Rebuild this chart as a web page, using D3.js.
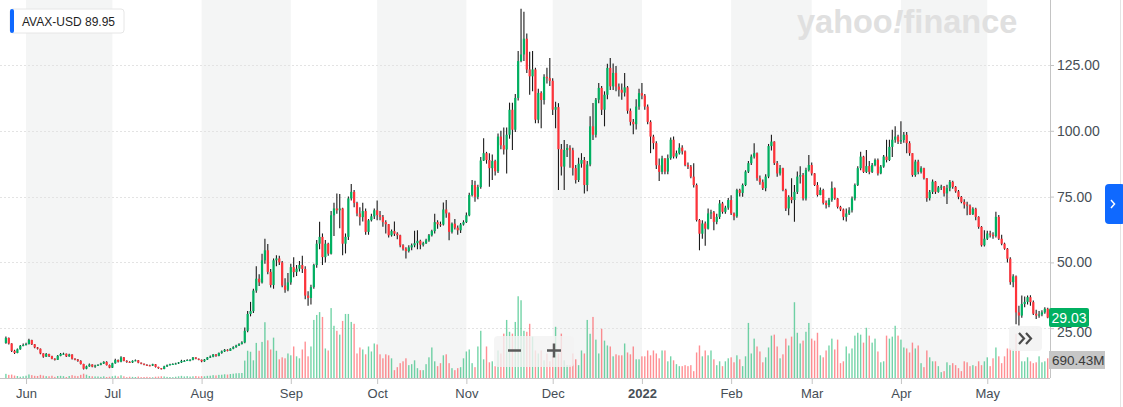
<!DOCTYPE html>
<html><head><meta charset="utf-8">
<script src="https://cdn.jsdelivr.net/npm/d3@7"></script>
<style>
html,body{margin:0;padding:0;background:#fff;}
svg{display:block;font-family:"Liberation Sans",Arial,Helvetica,sans-serif;}
</style></head><body>
<svg id="chart" width="1123" height="407"></svg>
<script>
// ---- data (AVAX-USD daily candles) ----
const ticker = "AVAX-USD";
const hoverPrice = "89.95";
const lastPriceLabel = "29.03";
const lastVolumeLabel = "690.43M";
const startDate = "2021-05-25";   // first daily candle
const firstOpen = 19.4;           // open of the first candle (crypto: open = previous close)
const closes = [
21.3,19.2,16.4,15.6,17.0,18.3,18.6,19.0,20.5,18.9,17.7,17.2,15.4,14.2,15.2,14.4,13.4,13.0,14.5,15.2,15.3,14.3,15.0,13.4,13.1,12.6,11.4,9.6,10.5,11.2,10.4,10.8,
11.1,11.6,12.2,11.0,10.0,11.7,12.9,12.3,13.9,12.6,12.2,12.0,12.6,12.8,11.9,11.5,11.1,10.9,10.8,11.3,10.3,9.8,9.5,10.5,11.0,11.3,11.4,11.6,12.0,12.6,12.6,12.9,
13.0,13.9,13.4,13.0,12.4,13.1,13.9,14.2,15.0,14.5,15.6,16.2,16.8,16.4,17.2,17.8,18.4,19.0,19.6,24.0,30.4,31.5,39.3,43.8,42.4,50.8,54.6,46.4,41.4,50.8,51.5,50.0,41.2,
39.6,42.4,48.2,46.3,47.6,49.0,47.5,37.4,36.5,40.6,49.0,57.1,59.7,52.0,57.1,53.3,67.9,70.5,69.8,70.5,57.1,59.7,74.3,76.8,72.6,68.6,67.2,69.5,61.6,66.0,67.5,69.8,68.0,
67.3,65.3,64.5,60.3,61.9,60.9,60.3,56.5,55.2,54.3,55.7,56.5,57.3,58.2,56.7,57.3,58.4,60.3,61.9,65.3,64.5,64.4,70.1,68.6,61.6,64.7,63.2,62.2,64.4,65.3,67.9,75.6,79.4,
74.9,78.6,88.7,91.5,88.9,85.8,88.5,84.6,97.8,94.5,92.9,98.5,108.0,100.4,112.5,126.5,129.0,135.0,123.3,120.7,123.3,104.2,114.4,111.7,120.5,120.0,119.0,108.0,109.0,93.0,86.4,92.7,93.5,
92.6,85.8,81.3,87.5,88.9,79.4,87.2,101.7,98.5,111.8,116.3,108.0,113.7,123.9,116.9,122.0,116.8,115.6,114.5,116.5,107.6,103.4,102.5,109.2,114.3,113.4,109.2,103.4,97.8,95.3,86.9,84.4,89.5,
84.5,89.6,96.6,90.2,91.5,93.6,92.2,87.0,86.4,82.6,79.4,66.1,60.9,64.8,62.8,68.6,69.0,65.4,67.3,72.4,69.2,70.8,73.7,68.6,67.5,77.5,76.4,79.4,84.5,87.7,90.2,91.5,82.0,
80.5,78.2,82.6,94.2,95.9,87.7,83.8,85.8,77.5,70.5,74.9,73.7,76.8,82.6,83.2,74.3,85.1,87.0,83.8,79.4,75.6,77.5,72.6,71.8,73.7,78.2,74.3,71.1,70.1,67.3,68.6,69.8,74.3,
79.4,85.8,90.2,84.4,86.6,84.4,87.0,88.9,83.8,86.4,90.2,88.9,93.9,96.6,97.8,95.9,96.5,98.5,95.3,91.5,83.2,88.3,84.4,85.8,82.0,74.4,76.8,80.7,76.8,78.5,78.8,76.2,78.2,
80.6,78.7,77.0,74.9,73.0,72.0,71.5,68.3,70.4,67.3,63.5,56.5,59.0,61.0,60.5,60.0,67.3,59.0,57.1,55.2,51.4,42.5,44.7,31.0,29.8,34.2,35.0,36.8,34.9,30.5,29.8,30.2,31.0,32.4,29.03
];
const highs = [
21.8,21.5,19.3,16.8,17.3,18.6,19.2,19.5,21.0,20.6,19.0,17.9,17.3,15.5,15.6,15.3,14.5,13.6,14.8,15.6,15.7,15.4,15.3,15.1,13.6,13.3,12.8,11.5,10.8,11.6,11.3,11.1,
11.3,11.9,12.4,12.4,11.2,11.9,13.4,13.1,14.3,14.1,12.8,12.4,12.8,13.1,12.9,12.0,11.6,11.3,11.1,11.5,11.4,10.4,9.9,10.7,11.2,11.5,11.7,11.9,12.2,13.0,12.9,13.2,
13.2,14.1,14.0,13.5,13.1,13.3,14.1,14.6,15.2,15.2,15.8,16.5,17.1,17.0,17.4,18.1,18.7,19.3,20.0,25.3,31.5,35.0,40.0,48.5,45.5,53.3,59.0,57.0,47.5,51.5,52.7,52.5,50.5,
44.0,46.0,49.5,52.0,49.0,50.5,52.5,48.5,39.0,41.5,49.5,58.5,65.4,61.0,58.5,57.5,69.5,72.7,76.2,76.0,70.8,61.0,75.0,79.8,77.5,73.0,71.0,72.7,70.5,66.5,68.5,70.5,73.5,
69.5,68.0,66.0,64.6,62.5,65.5,61.5,60.5,56.9,55.8,56.5,57.2,62.0,62.2,58.6,57.8,59.0,60.8,62.4,68.5,66.0,65.5,72.8,73.7,69.0,65.2,66.5,64.0,65.0,66.0,69.0,76.5,81.3,
81.0,79.5,90.0,97.2,92.0,91.5,91.0,89.0,99.0,100.0,101.3,101.3,110.7,110.7,114.0,130.3,146.4,145.2,137.0,130.0,130.3,124.0,116.0,115.0,121.5,124.0,127.7,120.0,111.0,110.5,95.0,96.5,95.0,
94.5,93.6,87.0,89.8,91.5,90.0,88.5,105.5,110.6,112.5,118.2,117.0,115.0,125.5,127.7,125.6,124.6,118.0,118.0,122.0,117.0,108.5,104.5,112.0,116.0,118.2,114.0,110.0,104.0,98.5,96.0,89.5,90.5,
89.6,91.0,97.5,97.8,92.5,95.3,94.5,92.5,88.0,87.0,87.7,80.0,66.5,66.0,65.5,70.5,70.0,69.5,68.5,73.7,73.0,71.5,74.5,75.5,69.0,78.0,78.0,80.0,85.0,88.5,91.0,95.3,91.8,
83.0,81.5,83.5,95.0,98.5,96.0,88.5,87.0,86.0,78.0,75.5,82.0,79.4,84.5,86.5,84.0,86.0,90.8,88.0,84.0,80.5,78.5,78.0,73.5,74.5,80.7,78.5,74.5,71.5,70.5,70.5,71.0,75.0,
80.0,86.5,92.0,90.5,92.7,88.5,87.8,89.5,89.5,87.0,90.8,96.6,96.6,100.4,101.7,98.5,103.6,99.5,99.5,96.0,91.5,89.0,89.0,86.5,86.0,82.0,77.5,81.5,80.9,79.0,79.5,79.0,79.5,
81.3,81.0,79.0,77.5,75.2,74.0,73.0,72.0,71.0,70.8,67.5,63.8,62.2,62.0,62.0,61.5,69.2,68.0,60.5,57.5,55.5,52.0,45.5,45.0,33.5,37.4,37.0,37.4,37.5,35.5,32.0,31.5,31.8,33.0,32.8
];
const lows = [
19.1,18.8,16.0,15.2,15.5,16.8,18.1,18.4,18.8,18.6,17.4,16.9,15.1,13.8,14.1,14.1,13.2,12.7,12.9,14.3,14.9,14.1,14.2,13.1,12.8,12.3,11.2,9.3,9.4,10.4,10.2,10.0,
10.6,10.9,11.4,10.8,9.8,9.9,11.5,12.0,12.1,12.4,11.9,11.8,11.8,12.4,11.7,11.3,10.9,10.6,10.5,10.6,10.1,9.6,9.3,9.4,10.3,10.8,11.1,11.2,11.4,11.8,12.3,12.5,
12.4,12.8,13.2,12.8,12.1,12.2,12.9,13.7,14.0,14.2,14.3,15.3,16.0,16.2,16.3,17.0,17.6,18.2,18.8,19.3,23.5,29.5,30.8,38.5,41.0,42.0,49.5,45.5,40.5,40.0,48.5,49.0,40.6,
38.5,39.0,41.5,44.4,44.8,46.5,46.0,36.0,33.5,34.0,40.0,48.0,55.0,49.0,50.0,52.5,53.0,60.0,68.5,63.0,52.7,53.4,58.5,73.5,71.0,67.5,64.0,65.5,60.5,60.5,65.5,66.5,66.0,
66.0,63.5,61.0,59.5,59.8,60.0,58.8,55.8,54.5,51.5,53.8,54.6,55.8,55.0,55.0,56.0,57.0,57.8,59.8,61.0,62.8,63.5,64.0,67.0,58.4,61.0,62.5,60.5,61.2,64.0,65.0,67.5,75.0,
73.0,74.0,78.0,88.5,87.5,78.7,81.3,83.0,84.0,93.0,91.0,83.8,97.0,92.7,99.5,111.5,126.0,126.5,122.0,113.7,115.0,102.9,102.9,101.0,110.0,118.0,117.0,106.0,101.0,77.5,83.0,77.5,90.0,
86.0,83.0,80.0,80.5,86.0,76.2,77.0,86.5,96.5,97.5,110.5,106.0,101.7,112.0,115.5,115.5,115.0,113.0,111.8,113.0,106.5,102.0,98.7,100.5,108.0,112.0,108.0,102.5,91.5,93.0,85.5,80.9,83.5,
83.5,83.5,89.0,89.5,89.5,91.0,91.0,86.5,85.5,82.0,78.5,65.5,54.6,59.0,56.3,62.5,66.5,62.2,64.5,66.5,68.5,68.5,70.0,68.0,66.0,67.0,75.0,74.9,79.0,84.0,87.0,89.5,81.0,
79.5,77.5,77.0,82.0,92.5,87.0,82.5,83.0,77.0,69.5,67.9,72.5,65.4,76.0,80.0,73.5,73.5,84.5,83.0,79.0,75.0,75.5,72.0,70.5,71.0,73.0,73.8,70.5,69.5,66.0,65.5,68.0,69.0,
73.5,79.0,85.0,84.0,84.0,83.5,84.0,86.5,83.0,83.5,86.0,88.0,88.5,90.0,95.5,95.0,95.0,95.5,91.5,90.5,82.5,82.5,83.5,83.8,81.5,73.0,73.5,76.0,76.0,76.5,77.5,75.0,72.2,
77.0,78.0,76.5,74.0,72.5,70.5,67.9,68.0,68.0,66.0,62.8,56.0,56.0,58.5,59.5,59.0,59.5,58.5,56.5,54.8,50.0,41.5,40.6,26.5,26.0,29.0,33.0,34.0,33.5,30.0,28.5,29.0,29.5,30.5,28.8
];
// volume, millions of USD
const volumes = [
145,110,120,85,70,45,60,80,125,100,75,70,110,85,65,60,80,40,70,75,65,35,70,100,75,65,110,150,115,70,60,55,
55,40,60,35,45,60,80,55,95,60,30,45,40,35,50,30,35,40,30,25,45,50,60,55,40,35,30,45,60,75,55,65,
50,60,70,55,65,60,75,80,100,90,110,115,130,120,140,150,165,170,175,610,955,920,620,1230,955,1265,1955,1320,1000,1415,955,655,725,
690,860,795,1105,760,690,1000,1275,760,1105,2035,2210,2310,2140,1035,965,2450,1830,1655,1520,2000,2245,2245,1965,1900,860,1070,1000,830,1105,930,1210,1175,
830,690,830,795,690,275,380,520,585,690,450,485,620,345,275,275,485,725,1070,585,415,520,795,830,520,345,275,345,380,690,930,1000,520,
380,1105,1655,655,1105,550,585,415,965,860,1555,2035,1620,1555,1965,2865,2725,1655,1620,1900,1450,965,860,965,620,860,585,760,1795,860,1555,620,450,
450,860,655,450,965,860,2035,1550,2140,1345,860,1725,1310,1140,1105,760,830,795,795,1210,895,830,1105,655,655,760,760,965,795,965,860,690,965,
965,585,760,620,485,415,415,450,415,450,240,895,1140,760,965,795,965,655,450,585,415,585,690,725,550,795,655,415,760,1930,860,1380,1105,
930,550,725,1070,1485,1520,1105,690,830,1380,1140,1450,2655,1585,1210,1310,1620,1930,1380,1310,1585,795,725,965,1140,1380,1000,1345,520,585,1105,860,1035,
1485,1585,1520,1240,1760,1485,1240,1380,930,550,585,1485,1380,1450,1830,1485,1345,1070,1035,895,1240,1035,1140,520,380,965,725,585,585,415,205,240,550,
450,520,450,345,240,585,550,415,450,415,585,450,585,725,415,690,1070,760,520,760,1035,1035,1000,1550,965,585,585,725,585,520,550,760,550,585,690.43
];
const priceTicks = [25, 50, 75, 100, 125];
const monthTickDates = ["2021-06-01","2021-07-01","2021-08-01","2021-09-01","2021-10-01","2021-11-01","2021-12-01","2022-01-01","2022-02-01","2022-03-01","2022-04-01","2022-05-01"];
const monthTickLabels = ["Jun","Jul","Aug","Sep","Oct","Nov","Dec","2022","Feb","Mar","Apr","May"];
const shadedMonthDates = ["2021-06-01","2021-08-01","2021-10-01","2021-12-01","2022-02-01","2022-04-01"];

// ---- drawing ----
const svg = d3.select("#chart");
const plotRight = 1050, axisY = 378;
const UP = "#00b061", DOWN = "#ff333a";
const parse = d3.utcParse("%Y-%m-%d");
const t0 = parse(startDate);
const dates = closes.map((_, i) => d3.utcDay.offset(t0, i));
const opens = closes.map((c, i) => i === 0 ? firstOpen : closes[i - 1]);

const x = d3.scaleUtc().domain([dates[0], dates[dates.length - 1]]).range([5.9, 1047.7]);
const y = d3.scaleLinear().domain([25, 125]).range([328.2, 65]);
const yv = d3.scaleLinear().domain([0, 690.43]).range([axisY, 358.3]);

// shaded month bands
svg.append("g").selectAll("rect").data(shadedMonthDates.map(parse)).join("rect")
  .attr("x", d => x(d)).attr("y", 0)
  .attr("width", d => x(d3.utcMonth.offset(d, 1)) - x(d))
  .attr("height", axisY).attr("fill", "#f4f5f5");

// horizontal grid
svg.append("g").selectAll("line").data(priceTicks).join("line")
  .attr("x1", 0).attr("x2", plotRight).attr("y1", d => Math.round(y(d)) + 0.5).attr("y2", d => Math.round(y(d)) + 0.5)
  .attr("stroke", "#e3e3e3").attr("stroke-dasharray", "2,2");

// volume bars
const idx = d3.range(closes.length);
svg.append("g").selectAll("rect").data(idx).join("rect")
  .attr("x", i => x(dates[i]) - 0.7).attr("width", 1.4)
  .attr("y", i => yv(volumes[i])).attr("height", i => axisY - yv(volumes[i]))
  .attr("fill", i => closes[i] >= opens[i] ? UP : DOWN).attr("fill-opacity", 0.55);

// candles
const cg = svg.append("g");
cg.selectAll("line").data(idx).join("line")
  .attr("x1", i => x(dates[i])).attr("x2", i => x(dates[i]))
  .attr("y1", i => y(Math.max(highs[i], opens[i], closes[i])))
  .attr("y2", i => y(Math.min(lows[i], opens[i], closes[i])))
  .attr("stroke", "#1b1b1b").attr("stroke-width", 1.1);
cg.selectAll("rect").data(idx).join("rect")
  .attr("x", i => x(dates[i]) - 1.1).attr("width", 2.2)
  .attr("y", i => y(Math.max(opens[i], closes[i])))
  .attr("height", i => Math.max(1, Math.abs(y(opens[i]) - y(closes[i]))))
  .attr("fill", i => closes[i] >= opens[i] ? UP : DOWN);

// right price axis
svg.append("line").attr("x1", plotRight + 0.5).attr("x2", plotRight + 0.5).attr("y1", 0).attr("y2", axisY)
  .attr("stroke", "#c4c4c4");
const ya = svg.append("g").attr("transform", `translate(${plotRight},0)`)
  .call(d3.axisRight(y).tickValues(priceTicks).tickFormat(d3.format(".2f")).tickSize(4).tickPadding(3));
ya.select(".domain").remove();
ya.selectAll("line").attr("stroke", "#c4c4c4");
ya.selectAll("text").attr("font-size", 14).attr("fill", "#464e56")
  .attr("font-family", "Liberation Sans, Arial, sans-serif")
  .attr("dy", d => d === 25 ? "0.62em" : "0.32em");

// bottom time axis
svg.append("line").attr("x1", 0).attr("x2", plotRight).attr("y1", axisY + 0.5).attr("y2", axisY + 0.5)
  .attr("stroke", "#c4c4c4");
const xa = svg.append("g").attr("transform", `translate(0,${axisY})`)
  .call(d3.axisBottom(x).tickValues(monthTickDates.map(parse))
    .tickFormat((d, i) => monthTickLabels[i]).tickSize(6).tickPadding(5));
xa.select(".domain").remove();
xa.selectAll("line").attr("stroke", "#c4c4c4");
xa.selectAll("text").attr("font-size", 13).attr("fill", "#464e56")
  .attr("font-family", "Liberation Sans, Arial, sans-serif")
  .attr("font-weight", (d, i) => monthTickLabels[i] === "2022" ? "bold" : "normal");

// right border + side button
svg.append("line").attr("x1", 1120.5).attr("x2", 1120.5).attr("y1", 0).attr("y2", 407).attr("stroke", "#e4e4e4");
svg.append("rect").attr("x", 1105).attr("y", 184).attr("width", 20).attr("height", 40).attr("rx", 4).attr("fill", "#0f69ff");
svg.append("path").attr("d", "M1111,200 L1114.5,204 L1111,208").attr("fill", "none").attr("stroke", "#fff").attr("stroke-width", 1.5);

// watermark
const wm = svg.append("text").attr("x", 797).attr("y", 33).attr("font-size", 32.5).attr("font-weight", "bold")
  .attr("fill", "#e0e0e0").attr("font-family", "Liberation Sans, Arial, sans-serif");
wm.append("tspan").text("yahoo");
wm.append("tspan").attr("font-style", "italic").text("!");
wm.append("tspan").text("finance");

// ticker tag
const tag = svg.append("g");
tag.append("rect").attr("x", 10).attr("y", 9).attr("width", 114).attr("height", 24).attr("rx", 3)
  .attr("fill", "#fff").attr("stroke", "#e6e6e6");
tag.append("rect").attr("x", 10).attr("y", 9).attr("width", 4).attr("height", 24).attr("rx", 2).attr("fill", "#0f69ff");
tag.append("text").attr("x", 22).attr("y", 25.5).attr("font-size", 12).attr("fill", "#1e1e1e").text(ticker);
tag.append("text").attr("x", 85).attr("y", 25.5).attr("font-size", 12).attr("fill", "#1e1e1e").text(hoverPrice);

// zoom control overlay
svg.append("rect").attr("x", 494).attr("y", 336).attr("width", 80).attr("height", 31).attr("rx", 4)
  .attr("fill", "#f2f2f2").attr("fill-opacity", 0.8);
svg.append("path").attr("d", "M508,350.5 H521").attr("stroke", "#5a5a5a").attr("stroke-width", 2.5);
svg.append("path").attr("d", "M547,350.5 H561 M554,343.5 V357.5").attr("stroke", "#5a5a5a").attr("stroke-width", 2.5);

// scroll button
svg.append("rect").attr("x", 1009).attr("y", 326).attr("width", 33).attr("height", 25).attr("rx", 4)
  .attr("fill", "#f2f2f2").attr("fill-opacity", 0.85);
svg.append("path").attr("d", "M1019,333 L1024,338.5 L1019,344 M1026,333 L1031,338.5 L1026,344")
  .attr("fill", "none").attr("stroke", "#4a4a4a").attr("stroke-width", 2.2);

// last price / last volume labels
svg.append("rect").attr("x", 1049).attr("y", 308).attr("width", 40).attr("height", 19).attr("rx", 2).attr("fill", "#00b061");
svg.append("text").attr("x", 1069).attr("y", 322.5).attr("text-anchor", "middle").attr("font-size", 14)
  .attr("fill", "#fff").text(lastPriceLabel);
svg.append("rect").attr("x", 1049).attr("y", 351).attr("width", 56).attr("height", 18).attr("fill", "#c6c6c6");
svg.append("text").attr("x", 1052).attr("y", 365).attr("font-size", 13.5)
  .attr("fill", "#3a3a3a").text(lastVolumeLabel);
</script>
</body></html>
